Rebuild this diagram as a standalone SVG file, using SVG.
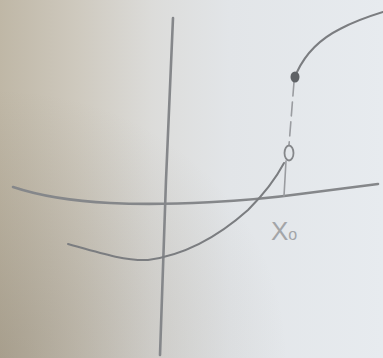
<svg xmlns="http://www.w3.org/2000/svg" width="383" height="358" viewBox="0 0 383 358">
<defs>
<linearGradient id="bg" x1="0" y1="0" x2="1" y2="0">
<stop offset="0" stop-color="#bfb7a6"/>
<stop offset="0.2" stop-color="#cec9be"/>
<stop offset="0.4" stop-color="#dcdcda"/>
<stop offset="0.6" stop-color="#e2e5e8"/>
<stop offset="1" stop-color="#e7ebef"/>
</linearGradient>
<radialGradient id="shade" cx="0" cy="1" r="0.75">
<stop offset="0" stop-color="#6a5f4c" stop-opacity="0.28"/>
<stop offset="1" stop-color="#6a5f4c" stop-opacity="0"/>
</radialGradient>
<style>
.pen{fill:none;stroke:#7b7d80;stroke-width:2;stroke-linecap:round;stroke-linejoin:round}
.axis{fill:none;stroke:#85878a;stroke-width:2.6;stroke-linecap:round}
.faint{fill:none;stroke:#9a9ca0;stroke-width:1.6;stroke-linecap:round}
.lbl{font-family:"Liberation Sans",Arial,sans-serif;fill:#a3a5a8}
</style>
</defs>
<rect width="383" height="358" fill="url(#bg)"/>
<rect width="383" height="358" fill="url(#shade)"/>
<g id="axes">
<path class="axis" d="M173,18 L166,180 L160,355"/>
<path class="axis" d="M13,187 C40,196 70,201 110,203 C170,206 250,201 300,194 C330,190 355,187 378,184"/>
</g>
<g id="connectors">
<path class="pen" d="M68,244 C100,253 125,261 148,260 C185,255 220,235 248,210 C262,196 274,182 284,163"/>
<path class="faint" d="M294,82 L289,145" stroke-dasharray="14,6"/>
<path class="faint" d="M286,161 L284,196"/>
<path class="pen" d="M297,72 C305,55 318,40 340,29 C355,21 370,16 383,12"/>
</g>
<g id="filled-dot"><ellipse cx="295" cy="77" rx="4.5" ry="5.5" fill="#5f6266"/></g>
<g id="open-dot"><ellipse cx="289" cy="153" rx="4.5" ry="7.5" fill="none" stroke="#85878a" stroke-width="1.8"/></g>
<g id="label"><text class="lbl" x="271" y="240" font-size="26">X<tspan font-size="16">o</tspan></text></g>
</svg>
